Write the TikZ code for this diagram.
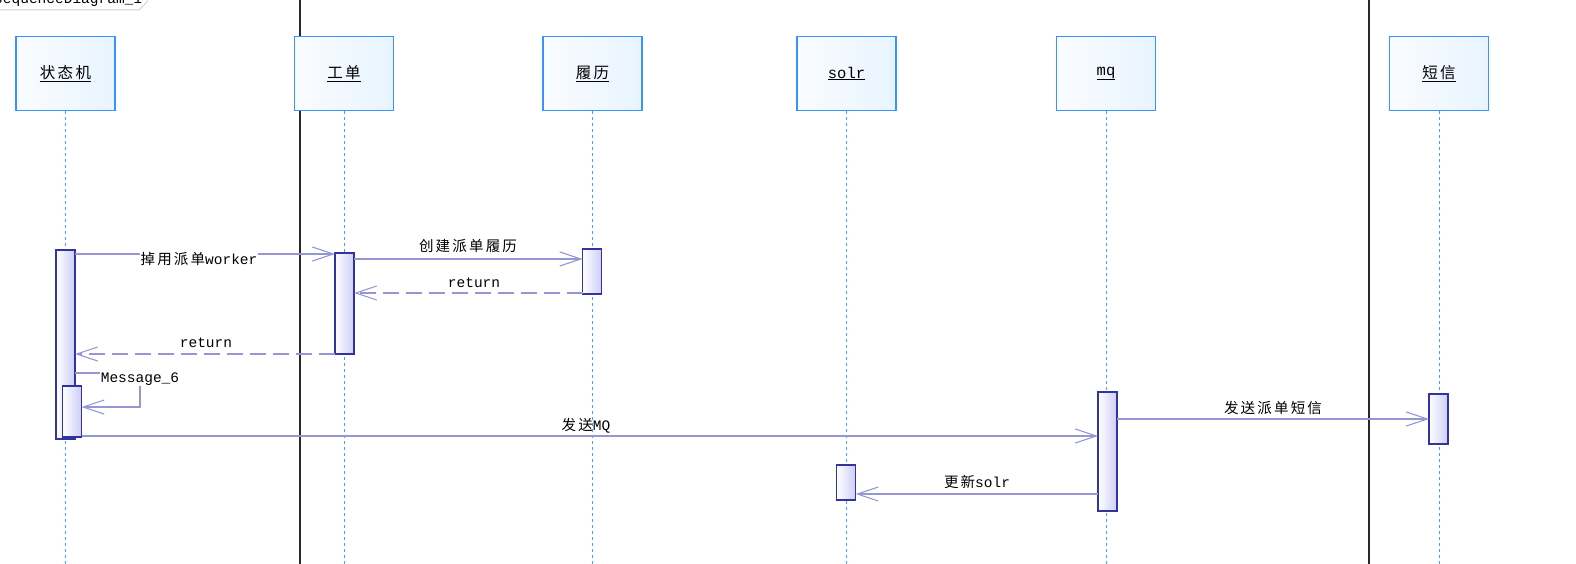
\documentclass[tikz,border=0pt]{standalone}
\usepackage{fontspec}
\setmainfont{Liberation Mono}
\newfontfamily\cjk[LetterSpace=15]{Noto Sans CJK SC}
\usetikzlibrary{arrows.meta,calc}
\definecolor{headblue}{RGB}{55,148,252}
\definecolor{headA}{RGB}{250,252,255}
\definecolor{headB}{RGB}{232,244,255}
\definecolor{actborder}{RGB}{50,50,160}
\definecolor{actfill}{RGB}{205,205,248}
\definecolor{lifeblue}{RGB}{70,160,255}
\definecolor{msgc}{RGB}{150,150,210}
\definecolor{sepc}{RGB}{40,40,40}
\definecolor{tabc}{RGB}{205,205,225}
\begin{document}
\begin{tikzpicture}[x=1pt,y=-1pt,
  head/.style={draw=headblue, line width=1.6pt, left color=headA, right color=headB,
    minimum width=99pt, minimum height=74pt, inner sep=0pt, font=\fontsize{15.5}{17}\selectfont},
  act/.style={draw=actborder, line width=1.2pt, left color=white, right color=actfill,
    minimum width=19pt, inner sep=0pt, outer sep=0pt, anchor=north},
  life/.style={draw=lifeblue, line width=1pt, dash pattern=on 3pt off 3pt},
  msg/.style={draw=msgc, line width=1.1pt, -{Straight Barb[length=21pt,width=14pt]}},
  ret/.style={msg, dash pattern=on 16pt off 7pt},
  lab/.style={font=\fontsize{14.5}{16}\selectfont, inner sep=1pt, anchor=base},
  sepline/.style={draw=sepc, line width=1.5pt}]
\useasboundingbox (0,0) rectangle (1576,564);
\clip (0,0) rectangle (1576,564);
\fill[white] (0,0) rectangle (1576,564);

% frame tab
\draw[tabc, line width=1pt] (-2,10) -- (139,10) -- (147,2) -- (147,-5);
\node[lab, anchor=base west, inner sep=0pt] (title) at (-6,4) {sequenceDiagram\_1};

% swimlane separators
\coordinate (s1t) at (300,-5); \coordinate (s1b) at (300,570);
\coordinate (s2t) at (1369,-5); \coordinate (s2b) at (1369,570);
\draw[sepline] (s1t) -- (s1b);
\draw[sepline] (s2t) -- (s2b);

% heads
\node[head] (h1) at (65.5,73.5) {\underline{\cjk 状态机}};
\node[head] (h2) at (344,73.5) {\underline{\cjk 工单}};
\node[head] (h3) at (592.5,73.5) {\underline{\cjk 履历}};
\node[head] (h4) at (846.5,73.5) {\underline{solr}};
\node[head] (h5) at (1106,73.5) {\underline{mq}};
\node[head] (h6) at (1439,73.5) {\underline{\cjk 短信}};

% lifelines
\foreach \i in {1,...,6} {
  \coordinate (e\i) at ($(h\i.south)+(0,470)$);
  \draw[life] (h\i.south) -- (e\i);
}

% activations
\node[act, minimum height=189pt] (a1) at (65.5,250) {};
\node[act, minimum height=51pt] (a1n) at (72,386) {};
\node[act, minimum height=101pt] (a2) at (344.5,253) {};
\node[act, minimum height=45pt] (a3) at (592,249) {};
\node[act, minimum height=35pt] (a4) at (846,465) {};
\node[act, minimum height=119pt] (a5) at (1107.5,392) {};
\node[act, minimum height=50pt] (a6) at (1438.5,394) {};

% messages
\draw[msg] (a1.east |- 0,254) -- (a2.west |- 0,254);
\node[lab, fill=white] (l1) at (199,264) {{\cjk 掉用派单}worker};

\draw[msg] (a2.east |- 0,259) -- (a3.west |- 0,259);
\node[lab] (l2) at (468,251) {\cjk 创建派单履历};

\draw[ret] (a3.west |- 0,293) -- (a2.east |- 0,293);
\node[lab] (l3) at (474,287) {return};

\draw[ret] (a2.west |- 0,354) -- (a1.east |- 0,354);
\node[lab] (l4) at (206,347) {return};

\coordinate (c6) at (140,407);
\draw[msg] (a1.east |- 0,373) -| (c6) -- (a1n.east |- 0,407);
\node[lab, fill=white] (l5) at (140,382) {Message\_6};

\draw[msg] (a1n.east |- 0,436) -- (a5.west |- 0,436);
\node[lab] (l6) at (586,430) {{\cjk 发送}MQ};

\draw[msg] (a5.east |- 0,419) -- (a6.west |- 0,419);
\node[lab] (l7) at (1273,413) {\cjk 发送派单短信};

\draw[msg] (a5.west |- 0,494) -- (a4.east |- 0,494);
\node[lab] (l8) at (977,487) {{\cjk 更新}solr};
\end{tikzpicture}
\end{document}
